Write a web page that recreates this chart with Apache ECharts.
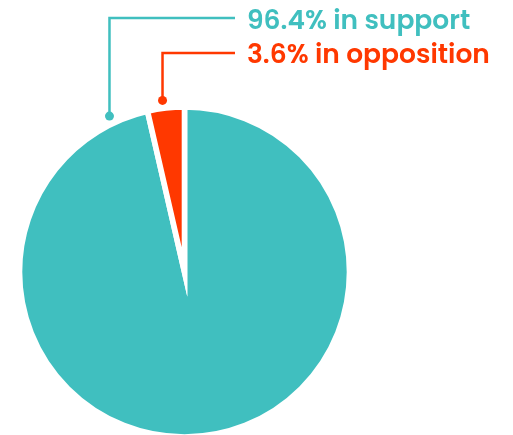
<!DOCTYPE html>
<html>
<head>
<meta charset="utf-8">
<script src="https://cdn.jsdelivr.net/npm/echarts@6/dist/echarts.min.js"></script>
<style>html,body{margin:0;padding:0;background:#fff}#c{width:513px;height:435px}</style>
</head>
<body>
<div id="c"></div>
<script>
const categories = ['in support', 'in opposition'];
const values = [96.4, 3.6];
const colors = ['#40BFBF', '#FF3800'];

// layout constants
const CX = 184.5, CY = 272, R = 165, BW = 5.6;
const anchorAngles = [25.7, 7.3];   // degrees left of 12 o'clock, where leader dots sit
const anchorR = 173;
const labelLineY = [18, 53];
const lineEndX = 235, textX = 247;
const textY = [22.5, 56.5];

function anchor(i) {
  const a = anchorAngles[i] * Math.PI / 180;
  return [CX - anchorR * Math.sin(a), CY - anchorR * Math.cos(a)];
}

const chart = echarts.init(document.getElementById('c'), null, {renderer: 'canvas'});
chart.setOption({
  animation: false,
  series: [{
    type: 'pie',
    center: [CX, CY],
    radius: R,
    startAngle: 90,
    clockwise: true,
    avoidLabelOverlap: false,
    data: categories.map((n, i) => ({
      name: n, value: values[i],
      itemStyle: {color: colors[i]},
      label: {color: colors[i]},
      labelLine: {lineStyle: {color: colors[i]}}
    })),
    itemStyle: {borderColor: '#fff', borderWidth: BW, borderJoin: 'miter', borderMiterLimit: 20},
    label: {
      show: true,
      formatter: p => p.value + '% ' + p.name,
      fontFamily: 'Poppins, "Open Sans", sans-serif',
      fontWeight: 600,
      fontSize: 26.5
    },
    labelLine: {show: true, lineStyle: {width: 2.5}},
    labelLayout: function (params) {
      const i = params.dataIndex;
      const p = anchor(i);
      return {
        x: textX, y: textY[i], align: 'left', verticalAlign: 'middle',
        labelLinePoints: [p, [p[0], labelLineY[i]], [lineEndX, labelLineY[i]]]
      };
    },
    emphasis: {disabled: true}
  }],
  graphic: categories.map((n, i) => {
    const p = anchor(i);
    return {type: 'circle', shape: {cx: p[0], cy: p[1], r: 4.5}, style: {fill: colors[i]}, z: 10};
  })
});
</script>
</body>
</html>
